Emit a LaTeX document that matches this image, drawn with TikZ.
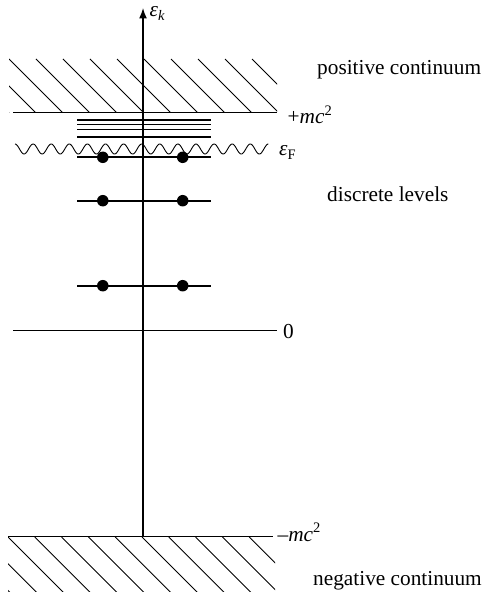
\documentclass[tikz,border=0pt]{standalone}
\usepackage{fontspec}
\setmainfont{Liberation Serif}
\usetikzlibrary{arrows.meta}
\newcommand{\lbsize}{\fontsize{21.3bp}{24bp}\selectfont}
\newcommand{\smsize}{\fontsize{14.5bp}{15bp}\selectfont}
\tikzset{
  lbl/.style={inner sep=0pt, anchor=base west, font=\lbsize},
  hatchline/.style={line width=0.9bp},
  bound/.style={line width=1.3bp},
  level/.style={line width=1.9bp},
  axisline/.style={line width=1.9bp, -{Latex[length=11bp,width=8bp]}},
  dot/.style={circle, fill=black, inner sep=0pt, minimum size=11.5bp}
}
\begin{document}
\begin{tikzpicture}[x=1bp,y=-1bp]
\useasboundingbox (0,0) rectangle (491,596);
% positive continuum hatch
\begin{scope}
\clip (9,59) rectangle (277,112.5);
\foreach \k in {-2,...,10} \draw[hatchline] (9+27*\k,59) -- ++(60,60);
\end{scope}
\coordinate (pL) at (13,112.7);
\coordinate (pR) at (277,112.7);
\draw[bound] (pL) -- (pR);
% negative continuum hatch
\begin{scope}
\clip (8,537) rectangle (275,591);
\foreach \k in {-2,...,10} \draw[hatchline] (8+26.8*\k,537) -- ++(60,60);
\end{scope}
\coordinate (nL) at (8,536.5);
\coordinate (nR) at (273,536.5);
\draw[bound] (nL) -- (nR);
% zero line
\coordinate (zL) at (13,330.7);
\coordinate (zR) at (277,330.7);
\draw[bound] (zL) -- (zR);
% near-continuum levels
\foreach \y/\n in {120/1,124.5/2,129.5/3,136.8/4} {
  \coordinate (a\n) at (77,\y);
  \coordinate (b\n) at (211,\y);
  \draw[level] (a\n) -- (b\n);
}
% Fermi wavy line
\draw[line width=0.9bp] plot[variable=\t, domain=0:14, samples=400, smooth] ({15+18.1*\t}, {149 + 5*sin(360*\t - 90)});
% discrete levels with electrons
\foreach \y/\n in {157.3/A,200.7/B,285.7/C} {
  \coordinate (l\n) at (77,\y);
  \coordinate (r\n) at (211,\y);
  \draw[level] (l\n) -- (r\n);
  \node[dot] (d1\n) at (102.8,\y) {};
  \node[dot] (d2\n) at (182.7,\y) {};
}
% energy axis
\coordinate (axbot) at (143,537);
\coordinate (axtop) at (143,7.5);
\draw[axisline] (axbot) -- (axtop);
% labels
\node[lbl] (ek) at (149.5,17) {\textit{ε}\raisebox{-0.35ex}{\smsize\textit{k}}};
\node[lbl] (pc) at (317,75) {positive continuum};
\node[lbl] (pmc) at (287.5,124) {+\textit{mc}\raisebox{0.85ex}{\smsize 2}};
\node[lbl] (ef) at (279,155.5) {\textit{ε}\raisebox{-0.4ex}{\smsize F}};
\node[lbl] (dl) at (327,201.5) {discrete levels};
\node[lbl] (zero) at (283,338) {0};
\node[lbl] (nmc) at (277.5,541) {–\textit{mc}\raisebox{0.85ex}{\smsize 2}};
\node[lbl] (nc) at (313,585) {negative continuum};
\end{tikzpicture}
\end{document}
